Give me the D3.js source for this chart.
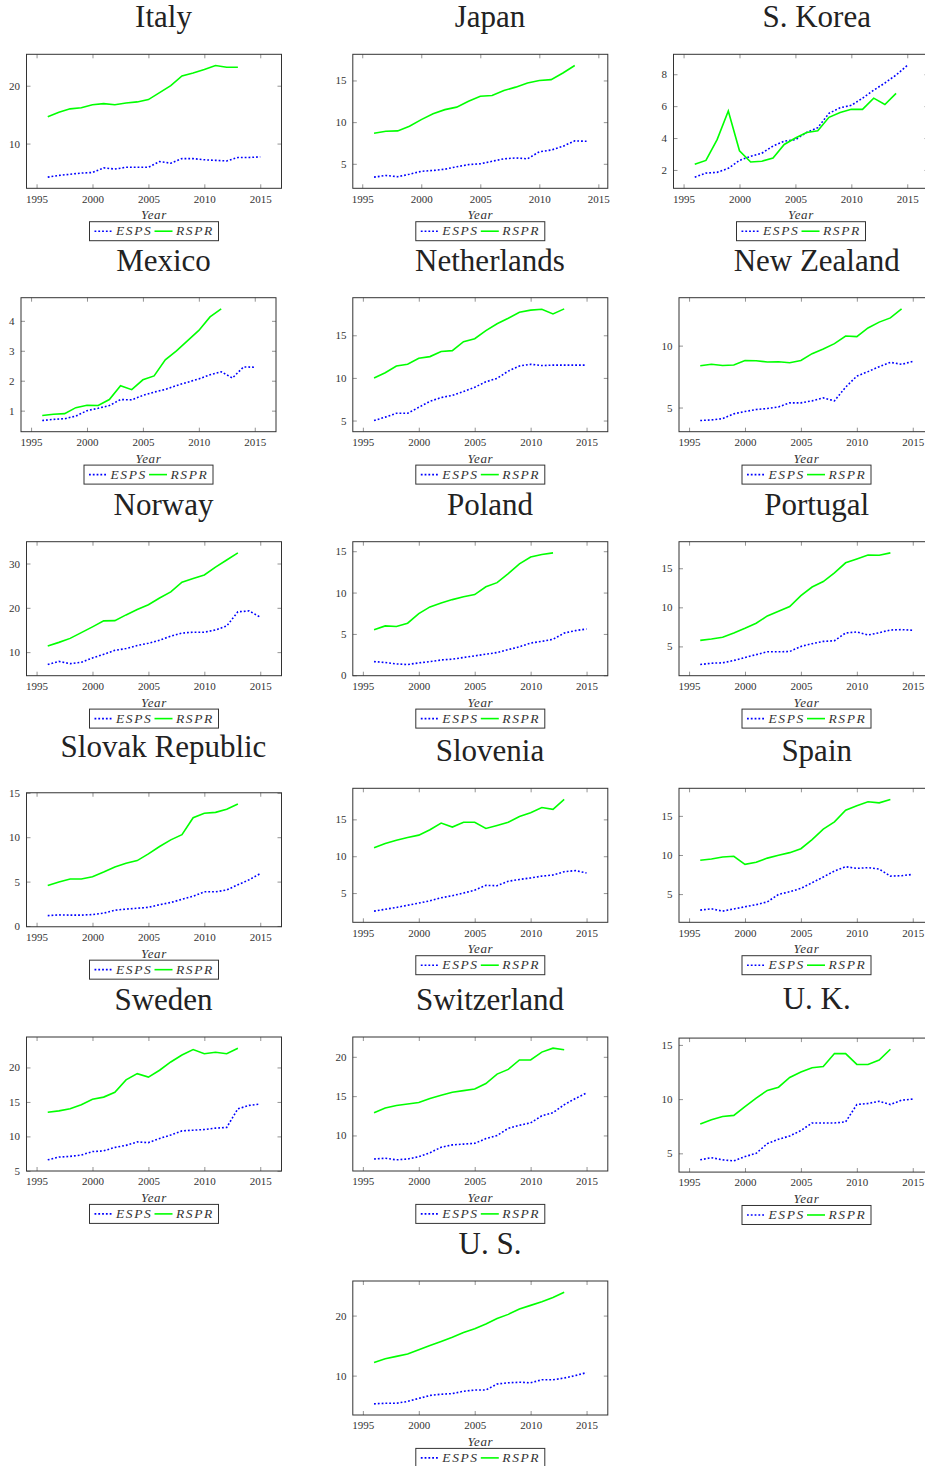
<!DOCTYPE html>
<html>
<head>
<meta charset="utf-8">
<script src="https://cdn.jsdelivr.net/npm/d3@7"></script>
<style>
body { margin: 0; background: #fff; }
svg { display: block; }
</style>
</head>
<body>
<svg id="chart" width="925" height="1466"></svg>
<script>
const years = [1996, 1997, 1998, 1999, 2000, 2001, 2002, 2003, 2004, 2005,
               2006, 2007, 2008, 2009, 2010, 2011, 2012, 2013, 2014, 2015];
const xTicks = [1995, 2000, 2005, 2010, 2015];
const countries = ['Italy', 'Japan', 'S. Korea', 'Mexico', 'Netherlands', 'New Zealand',
                   'Norway', 'Poland', 'Portugal', 'Slovak Republic', 'Slovenia', 'Spain',
                   'Sweden', 'Switzerland', 'U. K.', 'U. S.'];
const seriesNames = ['ESPS', 'RSPR'];

const italyESPS = [4.2, 4.5, 4.7, 4.9, 5.0, 5.8, 5.6, 5.9, 5.9, 5.9, 6.9, 6.6, 7.4, 7.4, 7.2, 7.1, 7.0, 7.6, 7.6, 7.7];
const italyRSPR = [14.65, 15.4, 16.0, 16.2, 16.7, 16.9, 16.7, 17.0, 17.2, 17.6, 18.8, 20.0, 21.7, 22.2, 22.8, 23.5, 23.2, 23.2];
const japanESPS = [3.4, 3.6, 3.45, 3.75, 4.1, 4.2, 4.35, 4.65, 4.9, 5.0, 5.3, 5.6, 5.7, 5.6, 6.45, 6.65, 7.1, 7.75, 7.7];
const japanRSPR = [8.67, 8.9, 8.95, 9.5, 10.3, 11.0, 11.5, 11.8, 12.5, 13.1, 13.2, 13.8, 14.2, 14.7, 15.0, 15.1, 15.9, 16.8];
const koreaESPS = [1.55, 1.8, 1.85, 2.1, 2.6, 2.85, 3.05, 3.5, 3.8, 3.9, 4.35, 4.65, 5.55, 5.9, 6.05, 6.5, 7.0, 7.45, 7.95, 8.55];
const koreaRSPR = [2.35, 2.6, 3.9, 5.7, 3.2, 2.5, 2.55, 2.75, 3.6, 4.0, 4.35, 4.45, 5.3, 5.6, 5.8, 5.8, 6.5, 6.1, 6.8];
const mexicoESPS = [0.67, 0.71, 0.73, 0.82, 1.0, 1.08, 1.17, 1.37, 1.36, 1.51, 1.62, 1.71, 1.84, 1.95, 2.06, 2.2, 2.3, 2.09, 2.46, 2.45];
const mexicoRSPR = [0.84, 0.88, 0.9, 1.1, 1.18, 1.17, 1.37, 1.83, 1.7, 2.03, 2.16, 2.7, 3.0, 3.34, 3.68, 4.13, 4.4];
const netherlandsESPS = [5.0, 5.4, 5.85, 5.85, 6.55, 7.25, 7.7, 7.95, 8.4, 8.9, 9.55, 9.95, 10.8, 11.4, 11.6, 11.45, 11.5, 11.5, 11.5, 11.5];
const netherlandsRSPR = [10.0, 10.6, 11.4, 11.6, 12.3, 12.5, 13.1, 13.2, 14.25, 14.6, 15.55, 16.35, 17.0, 17.7, 17.95, 18.05, 17.5, 18.1];
const nzESPS = [3.95, 4.0, 4.1, 4.49, 4.68, 4.84, 4.92, 5.05, 5.38, 5.38, 5.54, 5.78, 5.54, 6.65, 7.54, 7.9, 8.3, 8.65, 8.49, 8.73];
const nzRSPR = [8.38, 8.5, 8.4, 8.43, 8.8, 8.78, 8.68, 8.7, 8.62, 8.8, 9.35, 9.73, 10.16, 10.78, 10.73, 11.43, 11.9, 12.24, 12.97];
const norwayESPS = [7.2, 7.9, 7.4, 7.7, 8.7, 9.5, 10.4, 10.8, 11.5, 12.0, 12.7, 13.6, 14.3, 14.5, 14.5, 15.0, 15.9, 19.1, 19.3, 17.9];
const norwayRSPR = [11.4, 12.2, 13.1, 14.4, 15.7, 17.05, 17.1, 18.4, 19.6, 20.7, 22.2, 23.6, 25.8, 26.6, 27.4, 29.2, 30.8, 32.4];
const polandESPS = [1.65, 1.55, 1.37, 1.3, 1.5, 1.65, 1.85, 1.95, 2.15, 2.35, 2.55, 2.75, 3.1, 3.45, 3.9, 4.1, 4.35, 5.1, 5.4, 5.6];
const polandRSPR = [5.5, 5.97, 5.9, 6.3, 7.46, 8.27, 8.75, 9.15, 9.5, 9.76, 10.7, 11.2, 12.3, 13.47, 14.3, 14.6, 14.8];
const portugalESPS = [2.68, 2.85, 2.9, 3.2, 3.58, 3.95, 4.31, 4.31, 4.35, 5.0, 5.35, 5.64, 5.73, 6.72, 6.85, 6.46, 6.75, 7.1, 7.15, 7.06];
const portugalRSPR = [5.77, 5.94, 6.16, 6.72, 7.32, 7.96, 8.9, 9.5, 10.1, 11.5, 12.6, 13.3, 14.4, 15.7, 16.2, 16.7, 16.67, 16.97];
const slovakESPS = [1.17, 1.25, 1.22, 1.22, 1.29, 1.45, 1.78, 1.9, 2.0, 2.1, 2.4, 2.65, 3.0, 3.35, 3.85, 3.85, 4.05, 4.65, 5.2, 5.9];
const slovakRSPR = [4.57, 4.95, 5.3, 5.3, 5.55, 6.08, 6.65, 7.07, 7.37, 8.12, 8.95, 9.7, 10.28, 12.2, 12.7, 12.8, 13.15, 13.75];
const sloveniaESPS = [2.55, 2.8, 3.05, 3.35, 3.64, 3.95, 4.36, 4.65, 5.0, 5.4, 6.05, 6.0, 6.6, 6.85, 7.05, 7.3, 7.45, 7.9, 8.05, 7.73];
const sloveniaRSPR = [11.14, 11.73, 12.18, 12.55, 12.86, 13.6, 14.5, 13.95, 14.6, 14.6, 13.77, 14.18, 14.6, 15.4, 15.9, 16.6, 16.36, 17.7];
const spainESPS = [2.95, 3.12, 2.82, 3.1, 3.38, 3.65, 4.0, 4.96, 5.3, 5.73, 6.45, 7.18, 7.95, 8.5, 8.29, 8.38, 8.2, 7.3, 7.35, 7.52];
const spainRSPR = [9.32, 9.49, 9.74, 9.83, 8.8, 9.06, 9.6, 9.96, 10.3, 10.8, 11.97, 13.3, 14.23, 15.73, 16.3, 16.8, 16.67, 17.1];
const swedenESPS = [6.6, 7.0, 7.1, 7.3, 7.8, 7.9, 8.4, 8.7, 9.2, 9.1, 9.7, 10.2, 10.8, 10.9, 11.0, 11.2, 11.3, 14.0, 14.5, 14.7];
const swedenRSPR = [13.5, 13.7, 14.0, 14.6, 15.4, 15.7, 16.4, 18.2, 19.1, 18.6, 19.6, 20.8, 21.8, 22.6, 22.0, 22.2, 22.0, 22.8];
const swissESPS = [7.0, 7.1, 6.9, 7.0, 7.3, 7.8, 8.5, 8.8, 8.9, 9.0, 9.6, 10.0, 10.9, 11.3, 11.6, 12.5, 12.9, 13.9, 14.7, 15.4];
const swissRSPR = [12.9, 13.5, 13.8, 14.0, 14.2, 14.7, 15.1, 15.5, 15.7, 15.9, 16.6, 17.8, 18.4, 19.6, 19.6, 20.6, 21.1, 20.9];
const ukESPS = [4.4, 4.6, 4.4, 4.3, 4.7, 5.0, 5.9, 6.3, 6.6, 7.1, 7.8, 7.8, 7.8, 7.9, 9.5, 9.6, 9.8, 9.5, 9.9, 10.0];
const ukRSPR = [7.7, 8.1, 8.4, 8.5, 9.3, 10.1, 10.8, 11.1, 12.0, 12.5, 12.9, 13.0, 14.2, 14.2, 13.2, 13.2, 13.6, 14.6];
const usESPS = [5.3, 5.4, 5.4, 5.7, 6.2, 6.7, 6.9, 7.0, 7.4, 7.6, 7.6, 8.6, 8.8, 8.9, 8.8, 9.3, 9.3, 9.6, 10.0, 10.5];
const usRSPR = [12.2, 12.8, 13.2, 13.6, 14.3, 15.0, 15.7, 16.4, 17.2, 17.8, 18.6, 19.5, 20.2, 21.1, 21.7, 22.3, 23.0, 23.9];

const yTicks = [[10, 20], [5, 10, 15], [2, 4, 6, 8], [1, 2, 3, 4], [5, 10, 15], [5, 10],
                [10, 20, 30], [0, 5, 10, 15], [5, 10, 15], [0, 5, 10, 15], [5, 10, 15], [5, 10, 15],
                [5, 10, 15, 20], [10, 15, 20], [5, 10, 15], [10, 20]];

const espsSeries = [italyESPS, japanESPS, koreaESPS, mexicoESPS, netherlandsESPS, nzESPS,
                    norwayESPS, polandESPS, portugalESPS, slovakESPS, sloveniaESPS, spainESPS,
                    swedenESPS, swissESPS, ukESPS, usESPS];
const rsprSeries = [italyRSPR, japanRSPR, koreaRSPR, mexicoRSPR, netherlandsRSPR, nzRSPR,
                    norwayRSPR, polandRSPR, portugalRSPR, slovakRSPR, sloveniaRSPR, spainRSPR,
                    swedenRSPR, swissRSPR, ukRSPR, usRSPR];

const boxW = 255, boxH = 134;
const colLeft = [9, 335.3, 661.5];
const colCenter = [163.5, 490, 816.7];
const rowTop = [54.3, 297.7, 541.7, 788.3, 1037, 1281];
const serif = '"Liberation Serif", "Times New Roman", serif';

const svg = d3.select('#chart');

const panels = countries.map(function(name, i) {
    var col = i % 3, row = Math.floor(i / 3);
    if (i === 15) { col = 1; }
    return {name: name, esps: espsSeries[i], rspr: rsprSeries[i], ticks: yTicks[i], col: col, row: row};
});

function drawPanel(p) {
    const allVals = p.esps.concat(p.rspr);
    const yLo = d3.min(allVals), yHi = d3.max(allVals);
    const yPad = 0.1 * (yHi - yLo);
    const nYears = Math.max(p.esps.length, p.rspr.length);
    const xLo = years[0], xHi = years[nYears - 1];
    const xPad = 0.1 * (xHi - xLo);

    const x = d3.scaleLinear().domain([xLo - xPad, xHi + xPad]).range([0, boxW]);
    const y = d3.scaleLinear().domain([yLo - yPad, yHi + yPad]).range([boxH, 0]);

    // label column width decides where the frame starts
    const labelW = d3.max(p.ticks, t => String(t).length) * 5.5;
    const left = colLeft[p.col] + labelW + 6.5;
    const over = Math.max(0, 9 - y(d3.max(p.ticks)));
    const top = rowTop[p.row] + over / 2;

    svg.append('text')
        .attr('x', colCenter[p.col])
        .attr('y', top - 27 - over)
        .attr('text-anchor', 'middle')
        .attr('font-family', serif)
        .attr('font-size', 31)
        .attr('fill', '#222')
        .text(p.name);

    const g = svg.append('g').attr('transform', 'translate(' + left + ',' + top + ')');

    const line = d3.line()
        .x((d, i) => x(years[i]))
        .y(d => y(d));

    g.append('path')
        .datum(p.esps)
        .attr('d', line)
        .attr('fill', 'none')
        .attr('stroke', '#0000ff')
        .attr('stroke-width', 1.6)
        .attr('stroke-dasharray', '1.8 2');

    g.append('path')
        .datum(p.rspr)
        .attr('d', line)
        .attr('fill', 'none')
        .attr('stroke', '#00ff00')
        .attr('stroke-width', 1.6);

    const axes = [
        {gen: d3.axisBottom(x).tickValues(xTicks).tickFormat(d3.format('d')), at: [0, boxH], labels: true},
        {gen: d3.axisTop(x).tickValues(xTicks).tickFormat(''), at: [0, 0], labels: false},
        {gen: d3.axisLeft(y).tickValues(p.ticks).tickFormat(d3.format('d')), at: [0, 0], labels: true},
        {gen: d3.axisRight(y).tickValues(p.ticks).tickFormat(''), at: [boxW, 0], labels: false}
    ];
    axes.forEach(function(a) {
        var ag = g.append('g')
            .attr('transform', 'translate(' + a.at[0] + ',' + a.at[1] + ')')
            .call(a.gen.tickSizeInner(-4).tickSizeOuter(0).tickPadding(6.4));
        ag.select('.domain').remove();
        ag.selectAll('line').attr('stroke', '#777').attr('stroke-width', 0.8);
        ag.selectAll('text')
            .attr('font-family', serif)
            .attr('font-size', 11)
            .attr('fill', '#333');
    });

    g.append('rect')
        .attr('x', 0)
        .attr('y', 0)
        .attr('width', boxW)
        .attr('height', boxH)
        .attr('fill', 'none')
        .attr('stroke', '#333')
        .attr('stroke-width', 1);

    g.append('text')
        .attr('x', boxW / 2)
        .attr('y', boxH + 31)
        .attr('text-anchor', 'middle')
        .attr('font-family', serif)
        .attr('font-style', 'italic')
        .attr('font-size', 13)
        .attr('letter-spacing', 0.6)
        .attr('fill', '#333')
        .text('Year');

    const leg = g.append('g')
        .attr('transform', 'translate(' + (boxW / 2 - 64.5) + ',' + (boxH + 33.4) + ')');
    leg.append('rect')
        .attr('width', 129)
        .attr('height', 19)
        .attr('fill', '#fff')
        .attr('stroke', '#333')
        .attr('stroke-width', 1);
    const items = [
        {name: seriesNames[0], color: '#0000ff', dash: '1.8 2', x0: 5},
        {name: seriesNames[1], color: '#00ff00', dash: null, x0: 65}
    ];
    items.forEach(function(it) {
        leg.append('line')
            .attr('x1', it.x0)
            .attr('x2', it.x0 + 18)
            .attr('y1', 9.5)
            .attr('y2', 9.5)
            .attr('stroke', it.color)
            .attr('stroke-width', 1.6)
            .attr('stroke-dasharray', it.dash);
        leg.append('text')
            .attr('x', it.x0 + 21.5)
            .attr('y', 13.5)
            .attr('font-family', serif)
            .attr('font-style', 'italic')
            .attr('font-size', 13.5)
            .attr('letter-spacing', 1.6)
            .attr('fill', '#333')
            .text(it.name);
    });
}

panels.forEach(drawPanel);
</script>
</body>
</html>
